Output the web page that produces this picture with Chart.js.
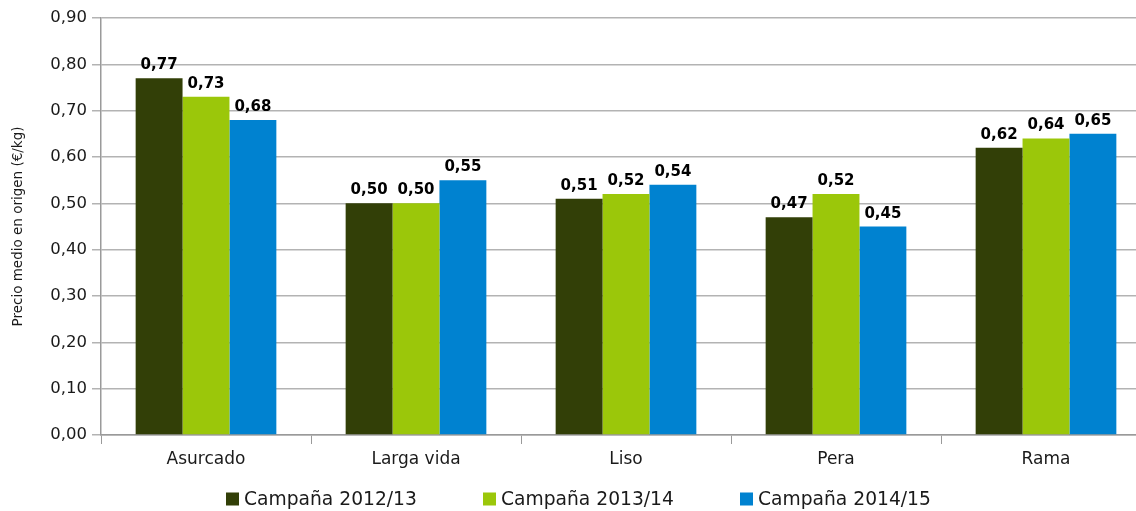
<!DOCTYPE html>
<html>
<head>
<meta charset="utf-8">
<script src="https://cdn.jsdelivr.net/npm/chart.js@4"></script>
<style>
  html, body { margin: 0; padding: 0; background: #fff; overflow: hidden; }
  #wrap { width: 1152px; height: 511px; position: relative; }
</style>
</head>
<body>
<div id="wrap"><canvas id="c"></canvas></div>
<script>
const categories = ["Asurcado", "Larga vida", "Liso", "Pera", "Rama"];
const seriesNames = ["Campaña 2012/13", "Campaña 2013/14", "Campaña 2014/15"];
const values2012 = [0.77, 0.50, 0.51, 0.47, 0.62];
const values2013 = [0.73, 0.50, 0.52, 0.52, 0.64];
const values2014 = [0.68, 0.55, 0.54, 0.45, 0.65];
const colors = ["#323F07", "#9BC70A", "#0082D0"];
const yTitle = "Precio medio en origen (€/kg)";

const FONT = "'DejaVu Sans', sans-serif";
const fmt = v => v.toFixed(2).replace('.', ',');

const valueLabels = {
  id: 'valueLabels',
  afterDatasetsDraw(chart) {
    const ctx = chart.ctx;
    ctx.save();
    ctx.font = "bold 15px " + FONT;
    ctx.fillStyle = "#000";
    ctx.textAlign = "center";
    ctx.textBaseline = "alphabetic";
    chart.data.datasets.forEach((ds, i) => {
      chart.getDatasetMeta(i).data.forEach((bar, j) => {
        ctx.fillText(fmt(ds.data[j]), bar.x, bar.y - 9);
      });
    });
    ctx.restore();
  }
};

const customLegend = {
  id: 'customLegend',
  afterDraw(chart) {
    const ctx = chart.ctx;
    ctx.save();
    ctx.font = "18.7px " + FONT;
    const box = 13, gapText = 5, step = 257;
    let x = 226;
    const y = 499;
    chart.data.datasets.forEach(d => {
      ctx.fillStyle = d.backgroundColor;
      ctx.fillRect(x, y - box / 2, box, box);
      ctx.fillStyle = "#1a1a1a";
      ctx.textBaseline = "middle";
      ctx.textAlign = "left";
      ctx.fillText(d.label, x + box + gapText, y + 1);
      x += step;
    });
    ctx.restore();
  }
};

new Chart(document.getElementById('c'), {
  type: 'bar',
  data: {
    labels: categories,
    datasets: [
      { label: seriesNames[0], data: values2012, backgroundColor: colors[0], borderWidth: 0 },
      { label: seriesNames[1], data: values2013, backgroundColor: colors[1], borderWidth: 0 },
      { label: seriesNames[2], data: values2014, backgroundColor: colors[2], borderWidth: 0 }
    ]
  },
  options: {
    responsive: true,
    maintainAspectRatio: false,
    animation: false,
    devicePixelRatio: 1,
    layout: { padding: { top: 18, right: 1, bottom: 0, left: 0 } },
    datasets: { bar: { barPercentage: 1.0, categoryPercentage: 0.67 } },
    plugins: {
      legend: { display: false },
      tooltip: { enabled: false }
    },
    scales: {
      x: {
        grid: { offset: true, drawOnChartArea: false, tickLength: 9, color: "#9a9a9a" },
        border: { color: "#9a9a9a", width: 1.5 },
        ticks: { color: "#1a1a1a", font: { family: FONT, size: 17 }, padding: 5 },
        afterFit(scale) { scale.height = 76; }
      },
      y: {
        min: 0, max: 0.9,
        ticks: { stepSize: 0.1, color: "#1a1a1a", font: { family: FONT, size: 16.5 }, padding: 5,
                 callback: v => fmt(v) },
        grid: { color: "#b3b3b3", tickLength: 9, lineWidth: 1.5 },
        border: { color: "#9a9a9a", width: 1.5 },
        title: { display: true, text: yTitle, color: "#1a1a1a", font: { family: FONT, size: 13.5 }, padding: { top: 10, bottom: 0 } },
        afterFit(scale) { scale.width = 101; }
      }
    }
  },
  plugins: [valueLabels, customLegend]
});
</script>
</body>
</html>
